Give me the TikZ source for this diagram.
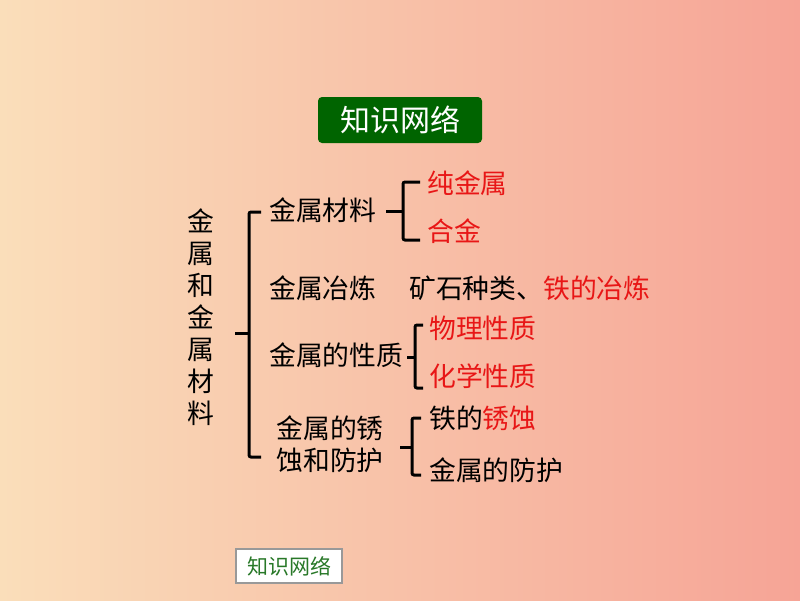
\documentclass[tikz,border=0pt]{standalone}
\usepackage{fontspec}
\newfontfamily\cjk{Noto Sans CJK SC}
\definecolor{bgL}{RGB}{250,222,186}
\definecolor{bgR}{RGB}{246,164,150}
\definecolor{titlegreen}{RGB}{0,100,0}
\definecolor{smallgreen}{RGB}{40,120,40}
\definecolor{hired}{RGB}{232,22,22}
\begin{document}
\begin{tikzpicture}[x=1pt,y=-1pt,
  txt/.style={font=\cjk\fontsize{26.8}{32}\selectfont, inner sep=0pt, anchor=west, text=black},
  redtxt/.style={txt, text=hired},
  brk/.style={line width=3pt, rounded corners=2pt, black}]
\shade[left color=bgL, right color=bgR] (0,0) rectangle (800,600);
\useasboundingbox (0,0) rectangle (800,600);
% title
\node[fill=titlegreen, rounded corners=4pt, minimum width=164pt, minimum height=46pt,
  inner sep=0pt, text=white, font=\cjk\fontsize{30}{30}\selectfont] (title) at (400,120) {知识网络};
% left vertical
\node[txt, anchor=center, align=center] (root) at (201,317) {金\\属\\和\\金\\属\\材\\料};
% second level
\node[txt] (m1) at (269,210) {金属材料};
\node[txt] (m2) at (269,288) {金属冶炼};
\node[txt] (m3) at (269,355) {金属的性质};
\node[txt, anchor=center, align=center] (m4) at (330,444) {金属的锈\\蚀和防护};
% third level
\node[redtxt] (a1) at (427,183) {纯金属};
\node[redtxt] (a2) at (427,231) {合金};
\node[txt] (b1) at (409,288) {矿石种类、\textcolor{hired}{铁的冶炼}};
\node[redtxt] (c1) at (429,328) {物理性质};
\node[redtxt] (c2) at (429,376) {化学性质};
\node[txt] (d1) at (429,418) {铁的\textcolor{hired}{锈蚀}};
\node[txt] (d2) at (429,470) {金属的防护};
% brackets
\coordinate (B0t) at (261,212); \coordinate (B0b) at (261,457); \coordinate (B0m) at (235,333);
\draw[brk] (B0t) -- (249,212) -- (249,457) -- (B0b);
\draw[brk] (B0m) -- (249,333);
\coordinate (B1t) at (420,182); \coordinate (B1b) at (420,240); \coordinate (B1m) at (386,211);
\draw[brk] (B1t) -- (403,182) -- (403,240) -- (B1b);
\draw[brk] (B1m) -- (403,211);
\coordinate (B2t) at (423,325); \coordinate (B2b) at (423,388); \coordinate (B2m) at (407,357);
\draw[brk] (B2t) -- (415,325) -- (415,388) -- (B2b);
\draw[brk] (B2m) -- (415,357);
\coordinate (B3t) at (421,418); \coordinate (B3b) at (421,475); \coordinate (B3m) at (400,447);
\draw[brk] (B3t) -- (412,418) -- (412,475) -- (B3b);
\draw[brk] (B3m) -- (412,447);
% bottom small box
\node[draw=gray!80, line width=1.2pt, fill=white, minimum width=106pt, minimum height=34pt, inner sep=0pt,
  text=smallgreen, font=\cjk\fontsize{21}{21}\selectfont] (nav) at (289,566) {知识网络};
\end{tikzpicture}
\end{document}
